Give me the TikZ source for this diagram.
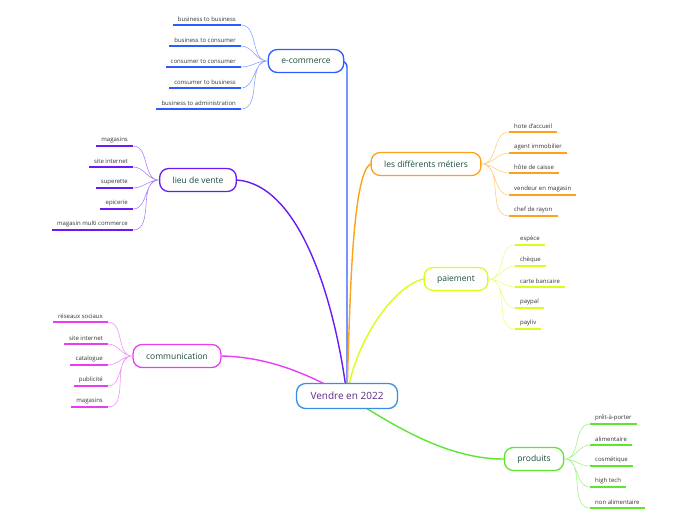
\documentclass[tikz,border=0pt]{standalone}
\usepackage{fontspec}
\setmainfont{Open Sans}
\usetikzlibrary{backgrounds}
\definecolor{cvendre}{HTML}{3A8EE6}
\definecolor{cecom}{HTML}{2E5BFF}
\definecolor{clieu}{HTML}{6A1BF5}
\definecolor{ccomm}{HTML}{E83DF5}
\definecolor{cmetiers}{HTML}{FFA21A}
\definecolor{cpaie}{HTML}{D6FF1A}
\definecolor{cprod}{HTML}{5CE62E}
\definecolor{maintext}{HTML}{1B4D3E}
\definecolor{vendretext}{HTML}{5E2A84}
\definecolor{leaftext}{HTML}{333333}

\begin{document}
\begin{tikzpicture}[x=1pt,y=-1pt,
  topic/.style={draw,fill=white,rounded corners=9pt,line width=1.3pt,minimum height=23pt,inner xsep=13pt,text=maintext,font=\fontsize{8.5}{10}\selectfont},
  leafl/.style={anchor=south east,inner xsep=5pt,inner ysep=3pt,text=leaftext,font=\fontsize{6}{7}\selectfont},
  leafr/.style={leafl,anchor=south west},
  under/.style={line width=1.8pt},
  twig/.style={line width=0.6pt,out=0,in=180},
  twigr/.style={line width=0.6pt,out=180,in=0},
  branch/.style={line width=1.4pt}]
\useasboundingbox (0,0) rectangle (696,520);

\node[topic,draw=cvendre,text=vendretext,minimum height=25pt,inner xsep=14pt,font=\fontsize{10}{12}\selectfont] (vendre) at (347,396) {Vendre en 2022};
\node[topic,draw=cecom] (ecom) at (306,61) {e-commerce};
\node[topic,draw=clieu] (lieu) at (198,180) {lieu de vente};
\node[topic,draw=ccomm] (comm) at (177,356) {communication};
\node[topic,draw=cmetiers] (metiers) at (426,164) {les diffèrents métiers};
\node[topic,draw=cpaie] (paie) at (456,279) {paiement};
\node[topic,draw=cprod] (prod) at (534,459) {produits};

\node[leafl] (e1) at (241,25) {business to business};
\node[leafl] (e2) at (241,46) {business to consumer};
\node[leafl] (e3) at (241,67) {consumer to consumer};
\node[leafl] (e4) at (241,88) {consumer to business};
\node[leafl] (e5) at (241,109) {business to administration};

\node[leafl] (l1) at (133,146) {magasins};
\node[leafl] (l2) at (133,167) {site internet};
\node[leafl] (l3) at (133,188) {superette};
\node[leafl] (l4) at (133,209) {epicerie};
\node[leafl] (l5) at (133,230) {magasin multi commerce};

\node[leafl] (c1) at (108,322) {réseaux sociaux};
\node[leafl] (c2) at (108,344) {site internet};
\node[leafl] (c3) at (108,365) {catalogue};
\node[leafl] (c4) at (108,386) {publicité};
\node[leafl] (c5) at (108,407) {magasins};

\node[leafr] (m1) at (509,132) {hote d'accueil};
\node[leafr] (m2) at (509,153) {agent immobilier};
\node[leafr] (m3) at (509,173) {hôte de caisse};
\node[leafr] (m4) at (509,195) {vendeur en magasin};
\node[leafr] (m5) at (509,216) {chef de rayon};

\node[leafr] (p1) at (515,245) {espèce};
\node[leafr] (p2) at (515,266) {chèque};
\node[leafr] (p3) at (515,287) {carte bancaire};
\node[leafr] (p4) at (515,308) {paypal};
\node[leafr] (p5) at (515,329) {payliv};

\node[leafr] (r1) at (590,424) {prêt-à-porter};
\node[leafr] (r2) at (590,445) {alimentaire};
\node[leafr] (r3) at (590,466) {cosmétique};
\node[leafr] (r4) at (590,487) {high tech};
\node[leafr] (r5) at (590,508) {non alimentaire};

\begin{scope}[on background layer]
\draw[branch,cecom,rounded corners=6pt] (ecom.east) -| (vendre.center);
\draw[branch,clieu] (lieu.east) .. controls (300,185) and (335,300) .. (vendre.center);
\draw[branch,ccomm] (comm.east) .. controls (270,357) and (310,375) .. (vendre.center);
\draw[branch,cmetiers] (metiers.west) .. controls (352,175) and (350,300) .. (vendre.center);
\draw[branch,cpaie] (paie.west) .. controls (395,285) and (355,340) .. (vendre.center);
\draw[branch,cprod] (prod.west) .. controls (450,459) and (400,430) .. (vendre.center);
\end{scope}

\draw[under,cecom] (e1.south west) -- (e1.south east) (e2.south west) -- (e2.south east) (e3.south west) -- (e3.south east) (e4.south west) -- (e4.south east) (e5.south west) -- (e5.south east);
\draw[under,clieu] (l1.south west) -- (l1.south east) (l2.south west) -- (l2.south east) (l3.south west) -- (l3.south east) (l4.south west) -- (l4.south east) (l5.south west) -- (l5.south east);
\draw[under,ccomm] (c1.south west) -- (c1.south east) (c2.south west) -- (c2.south east) (c3.south west) -- (c3.south east) (c4.south west) -- (c4.south east) (c5.south west) -- (c5.south east);
\draw[under,cmetiers] (m1.south west) -- (m1.south east) (m2.south west) -- (m2.south east) (m3.south west) -- (m3.south east) (m4.south west) -- (m4.south east) (m5.south west) -- (m5.south east);
\draw[under,cpaie] (p1.south west) -- (p1.south east) (p2.south west) -- (p2.south east) (p3.south west) -- (p3.south east) (p4.south west) -- (p4.south east) (p5.south west) -- (p5.south east);
\draw[under,cprod] (r1.south west) -- (r1.south east) (r2.south west) -- (r2.south east) (r3.south west) -- (r3.south east) (r4.south west) -- (r4.south east) (r5.south west) -- (r5.south east);

\draw[twig,cecom!55] (e1.south east) to (ecom.west) (e2.south east) to (ecom.west) (e3.south east) to (ecom.west) (e4.south east) to (ecom.west) (e5.south east) to (ecom.west);
\draw[twig,clieu!55] (l1.south east) to (lieu.west) (l2.south east) to (lieu.west) (l3.south east) to (lieu.west) (l4.south east) to (lieu.west) (l5.south east) to (lieu.west);
\draw[twig,ccomm!55] (c1.south east) to (comm.west) (c2.south east) to (comm.west) (c3.south east) to (comm.west) (c4.south east) to (comm.west) (c5.south east) to (comm.west);
\draw[twigr,cmetiers!55] (m1.south west) to (metiers.east) (m2.south west) to (metiers.east) (m3.south west) to (metiers.east) (m4.south west) to (metiers.east) (m5.south west) to (metiers.east);
\draw[twigr,cpaie!55] (p1.south west) to (paie.east) (p2.south west) to (paie.east) (p3.south west) to (paie.east) (p4.south west) to (paie.east) (p5.south west) to (paie.east);
\draw[twigr,cprod!55] (r1.south west) to (prod.east) (r2.south west) to (prod.east) (r3.south west) to (prod.east) (r4.south west) to (prod.east) (r5.south west) to (prod.east);
\end{tikzpicture}
\end{document}
